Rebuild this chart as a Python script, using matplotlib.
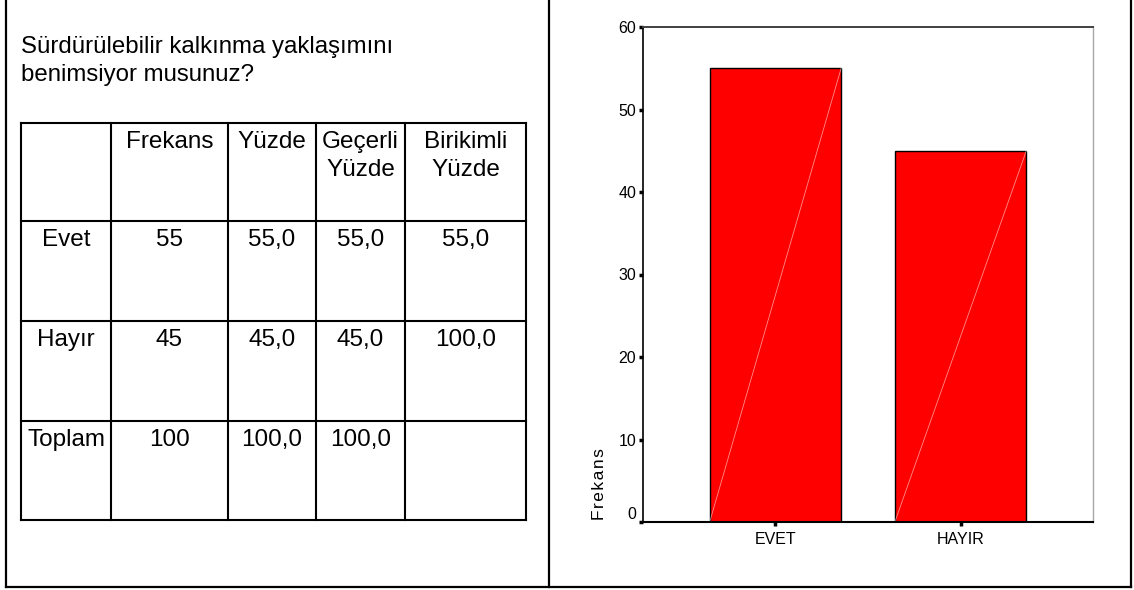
import numpy as np
import matplotlib

matplotlib.use("Agg")
import matplotlib.pyplot as plt

plt.rcParams["font.family"] = ["Liberation Sans", "DejaVu Sans"]

# --- data ---
title_lines = ["Sürdürülebilir kalkınma yaklaşımını", "benimsiyor musunuz?"]
header = ["", "Frekans", "Yüzde", "Geçerli\nYüzde", "Birikimli\nYüzde"]
row_labels = ["Evet", "Hayır", "Toplam"]
frekans = [55, 45, 100]
yuzde = [55.0, 45.0, 100.0]
gecerli_yuzde = [55.0, 45.0, 100.0]
birikimli_yuzde = [55.0, 100.0, None]

bar_labels = ["EVET", "HAYIR"]
bar_values = [55, 45]
y_label = "Frekans"


def fmt(v):
    if v is None:
        return ""
    if isinstance(v, float):
        return f"{v:.1f}".replace(".", ",")
    return str(v)


W, H = 1134, 590
fig = plt.figure(figsize=(W / 100, H / 100), dpi=100)

# background layer in pixel coords (y down)
bg = fig.add_axes([0, 0, 1, 1], zorder=0)
bg.set_xlim(0, W)
bg.set_ylim(H, 0)
bg.axis("off")

# outer frame + divider
box_kw = dict(color="black", lw=1.6, solid_capstyle="projecting")
bg.plot([6, 6], [0, 586.5], **box_kw)
bg.plot([1131, 1131], [0, 586.5], **box_kw)
bg.plot([6, 1131], [586.5, 586.5], **box_kw)
bg.plot([549, 549], [0, 586.5], **box_kw)

# title
for i, line in enumerate(title_lines):
    bg.text(21, 53 + i * 28, line, fontsize=17.3, ha="left", va="baseline")

# table
col_x = [21, 111, 228, 316, 405, 526]
row_y = [123, 221, 321, 421, 520]
for x in col_x:
    bg.plot([x, x], [row_y[0], row_y[-1]], color="black", lw=1.5, solid_capstyle="projecting")
for y in row_y:
    bg.plot([col_x[0], col_x[-1]], [y, y], color="black", lw=1.5, solid_capstyle="projecting")

cell_rows = [header] + [
    [row_labels[i], fmt(frekans[i]), fmt(yuzde[i]), fmt(gecerli_yuzde[i]), fmt(birikimli_yuzde[i])]
    for i in range(len(row_labels))
]
for r, cells in enumerate(cell_rows):
    top = row_y[r]
    for c, txt in enumerate(cells):
        cx = (col_x[c] + col_x[c + 1]) / 2
        for k, part in enumerate(txt.split("\n")):
            bg.text(cx, top + 25 + k * 28, part, fontsize=17.5, ha="center", va="baseline")

# --- bar chart ---
ax = fig.add_axes([643 / W, 68 / H, 450 / W, 495 / H], zorder=1)
x = np.arange(len(bar_values))
bars = ax.bar(x, bar_values, width=0.71, color="#ff0000", edgecolor="black", linewidth=1.0)
for b in bars:
    ax.plot([b.get_x(), b.get_x() + b.get_width()], [0, b.get_height()],
            color="white", lw=0.6, alpha=0.55)

ax.set_xlim(-0.715, 1.715)
ax.set_ylim(0, 60)
ax.set_yticks(np.arange(0, 61, 10))
ax.set_xticks(x)
ax.set_xticklabels(bar_labels)

narrow = ["Liberation Sans Narrow", "Liberation Sans", "DejaVu Sans"]
ax.tick_params(axis="both", direction="out", length=3, width=2.5, color="black", pad=2)
ax.tick_params(axis="x", pad=4)
for lab in ax.get_yticklabels() + ax.get_xticklabels():
    lab.set_family(narrow)
    lab.set_fontsize(11.5)
ax.get_yticklabels()[0].set_va("bottom")

ax.spines["left"].set_color("black")
ax.spines["left"].set_linewidth(1.2)
ax.spines["bottom"].set_color("black")
ax.spines["bottom"].set_linewidth(1.5)
ax.spines["top"].set_color("#404040")
ax.spines["top"].set_linewidth(1.4)
ax.spines["right"].set_color("#a8a8a8")
ax.spines["right"].set_linewidth(1.0)

ax.set_ylabel("\u200a".join(y_label), fontsize=12.5)
ax.yaxis.set_label_coords(-0.08, 0.076)

fig.savefig("out.png", dpi=100)
plt.close(fig)
